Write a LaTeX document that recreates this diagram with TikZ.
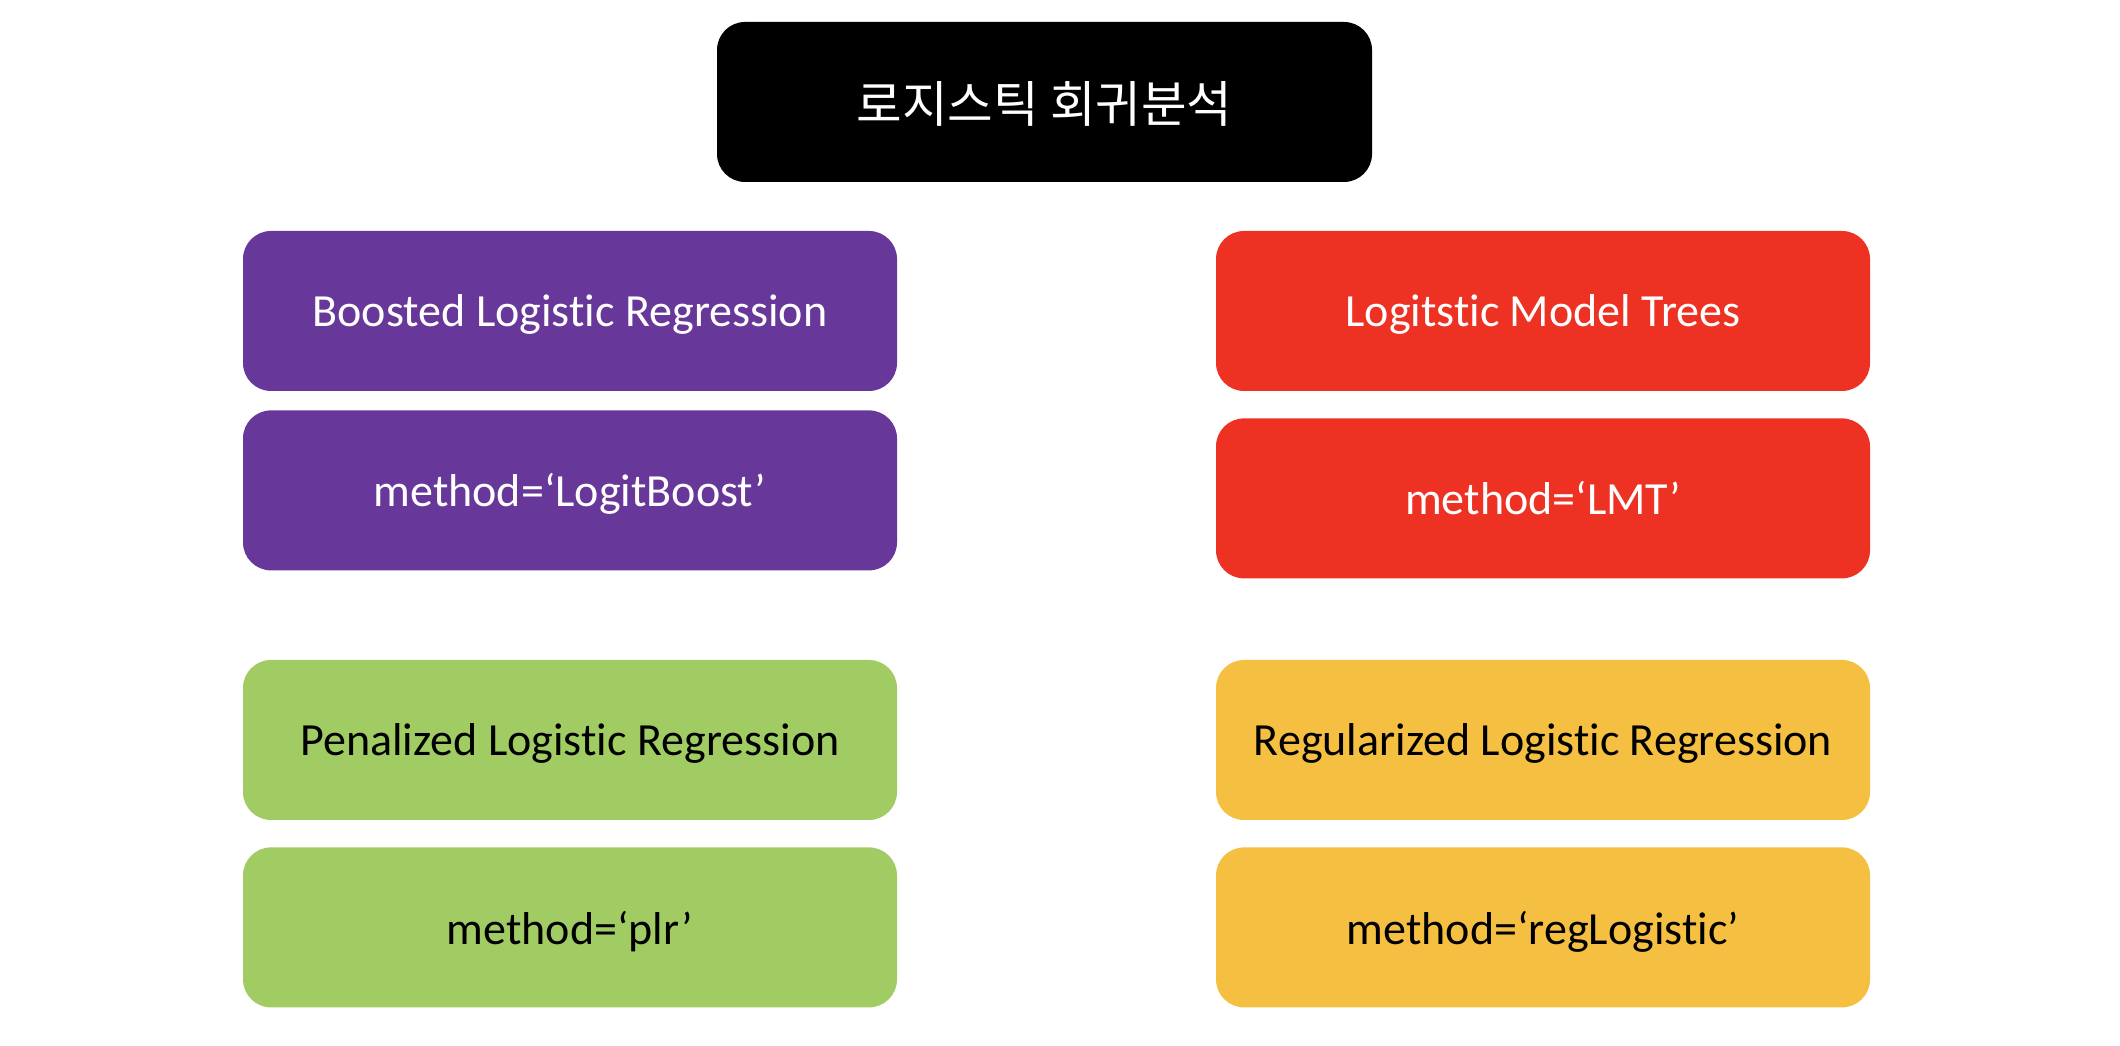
\documentclass[tikz,border=0pt]{standalone}
\usepackage{fontspec}
\setmainfont{Carlito}[Ligatures=NoCommon]
\newfontfamily\krfont{Noto Sans CJK KR}
\usepackage{tikz}
\usetikzlibrary{positioning}

\definecolor{boxpurple}{RGB}{103,56,153}
\definecolor{boxred}{RGB}{237,50,36}
\definecolor{boxgreen}{RGB}{161,204,99}
\definecolor{boxyellow}{RGB}{245,192,66}

\tikzset{
    methodbox/.style={rounded corners=0.28cm, minimum width=6.54cm, minimum height=1.6cm,
        inner sep=0pt, font=\fontsize{13.1}{15}\selectfont, text depth=0pt},
}

\begin{document}
\begin{tikzpicture}
    \useasboundingbox (0,0) rectangle (21.2,10.46);

    % Title
    \node[methodbox, fill=black, text=white, minimum width=6.55cm, minimum height=1.6cm,
        font=\krfont\fontsize{14.1}{16}\selectfont] (title) at (10.445,9.44) {로지스틱 회귀분석};

    % Boosted logistic regression
    \node[methodbox, fill=boxpurple, text=white] (boosted) at (5.70,7.35) {Boosted Logistic Regression};
    \node[methodbox, fill=boxpurple, text=white, below=0.18cm of boosted] (boostedm) {method=‘LogitBoost’};

    % Logistic model trees
    \node[methodbox, fill=boxred, text=white] (lmt) at (15.43,7.35) {Logitstic Model Trees};
    \node[methodbox, fill=boxred, text=white, below=0.26cm of lmt] (lmtm) {method=‘LMT’};

    % Penalized logistic regression
    \node[methodbox, fill=boxgreen, text=black] (plr) at (5.70,3.06) {Penalized Logistic Regression};
    \node[methodbox, fill=boxgreen, text=black, below=0.26cm of plr] (plrm) {method=‘plr’};

    % Regularized logistic regression
    \node[methodbox, fill=boxyellow, text=black] (reg) at (15.43,3.06) {Regularized Logistic Regression};
    \node[methodbox, fill=boxyellow, text=black, below=0.26cm of reg] (regm) {method=‘regLogistic’};
\end{tikzpicture}
\end{document}
